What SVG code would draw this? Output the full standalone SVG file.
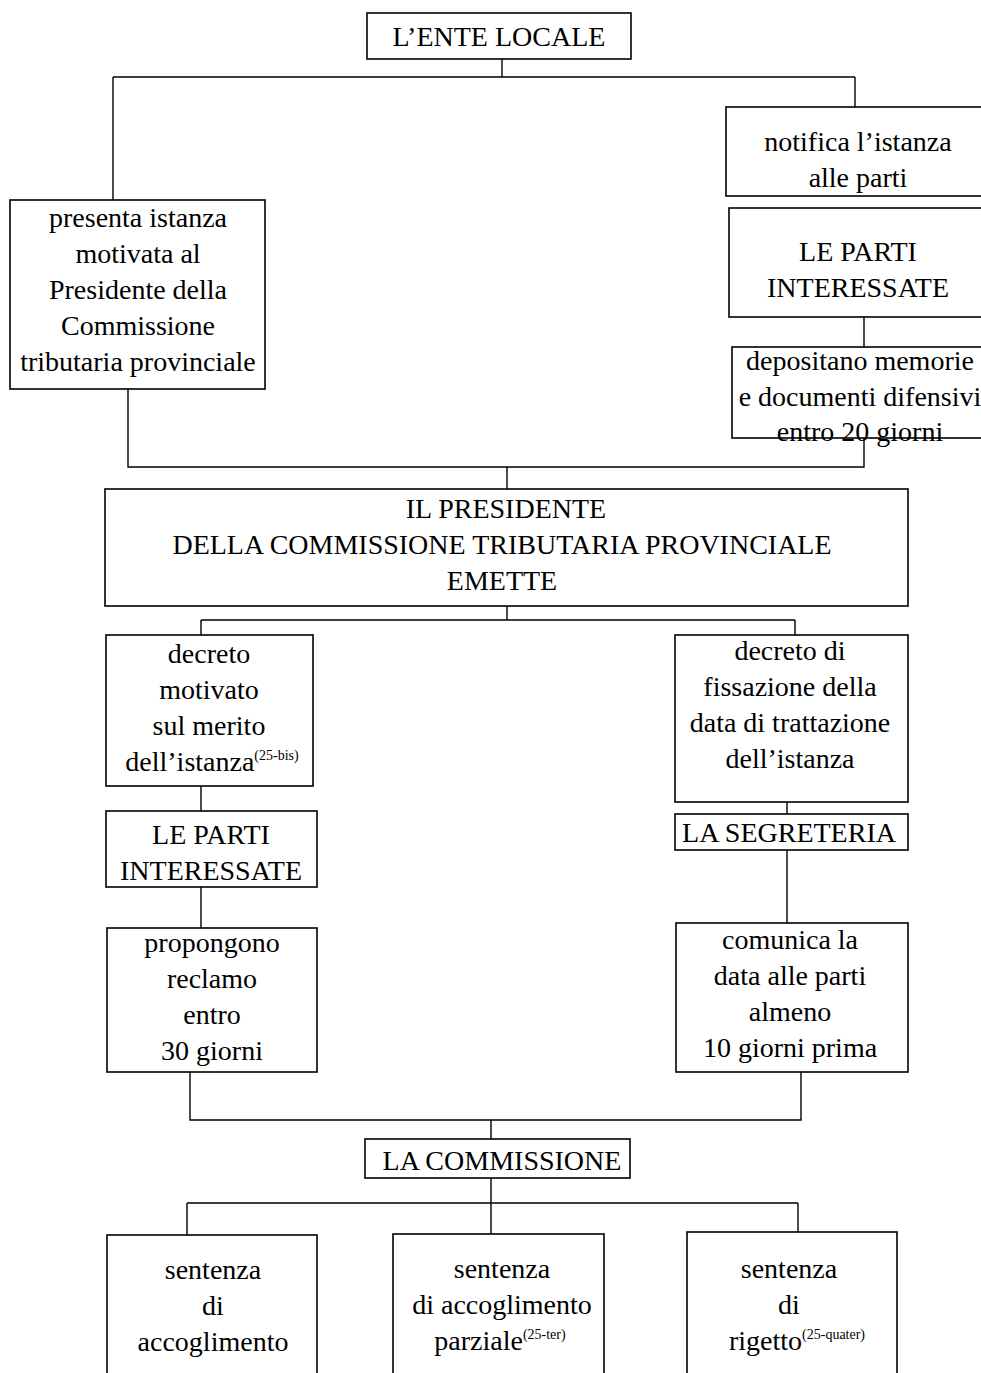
<svg xmlns="http://www.w3.org/2000/svg" width="981" height="1373" viewBox="0 0 981 1373">
<style>
.box{fill:#fff;stroke:#000;stroke-width:1.6}
.ln{fill:none;stroke:#000;stroke-width:1.4}
text{font-family:"Liberation Serif","Times New Roman",serif;font-size:28px;fill:#000;text-anchor:middle}
.sup{font-size:14px}
</style>
<rect width="981" height="1373" fill="#fff"/>
<g id="connectors">
<path class="ln" d="M502,59V77M113,77H855M113,77V200M855,77V107"/>
<path class="ln" d="M864,317V347"/>
<path class="ln" d="M128,389V467H864V438"/>
<path class="ln" d="M507,467V489"/>
<path class="ln" d="M507,606V620M201,620H795M201,620V635M795,620V635"/>
<path class="ln" d="M201,786V811M201,887V928"/>
<path class="ln" d="M787,802V814M787,850V923"/>
<path class="ln" d="M190,1072V1120H801V1072M491,1120V1139"/>
<path class="ln" d="M491,1178V1234M187,1203H798M187,1203V1235M798,1203V1232"/>
</g>
<g id="ente">
<rect class="box" x="367" y="13" width="264" height="46"/>
<text x="499" y="46">L’ENTE LOCALE</text>
</g>
<g id="presenta">
<rect class="box" x="10" y="200" width="255" height="189"/>
<text x="138" y="227">presenta istanza</text>
<text x="138" y="263">motivata al</text>
<text x="138" y="299">Presidente della</text>
<text x="138" y="335">Commissione</text>
<text x="138" y="371">tributaria provinciale</text>
</g>
<g id="notifica">
<rect class="box" x="726" y="107" width="270" height="89"/>
<text x="858" y="151">notifica l’istanza</text>
<text x="858" y="187">alle parti</text>
</g>
<g id="parti1">
<rect class="box" x="729" y="208" width="270" height="109"/>
<text x="858" y="261">LE PARTI</text>
<text x="858" y="297">INTERESSATE</text>
</g>
<g id="depositano">
<rect class="box" x="732" y="347" width="265" height="91"/>
<text x="860" y="370">depositano memorie</text>
<text x="860" y="406">e documenti difensivi</text>
<text x="860" y="441">entro 20 giorni</text>
</g>
<g id="presidente">
<rect class="box" x="105" y="489" width="803" height="117"/>
<text x="506" y="518">IL PRESIDENTE</text>
<text x="502" y="554">DELLA COMMISSIONE TRIBUTARIA PROVINCIALE</text>
<text x="502" y="590">EMETTE</text>
</g>
<g id="decreto-motivato">
<rect class="box" x="106" y="635" width="207" height="151"/>
<text x="209" y="663">decreto</text>
<text x="209" y="699">motivato</text>
<text x="209" y="735">sul merito</text>
<text x="212" y="771">dell’istanza<tspan class="sup" dy="-11">(25-bis)</tspan></text>
</g>
<g id="decreto-fissazione">
<rect class="box" x="675" y="635" width="233" height="167"/>
<text x="790" y="660">decreto di</text>
<text x="790" y="696">fissazione della</text>
<text x="790" y="732">data di trattazione</text>
<text x="790" y="768">dell’istanza</text>
</g>
<g id="parti2">
<rect class="box" x="106" y="811" width="211" height="76"/>
<text x="211" y="844">LE PARTI</text>
<text x="211" y="880">INTERESSATE</text>
</g>
<g id="segreteria">
<rect class="box" x="675" y="814" width="233" height="36"/>
<text x="789" y="842">LA SEGRETERIA</text>
</g>
<g id="propongono">
<rect class="box" x="107" y="928" width="210" height="144"/>
<text x="212" y="952">propongono</text>
<text x="212" y="988">reclamo</text>
<text x="212" y="1024">entro</text>
<text x="212" y="1060">30 giorni</text>
</g>
<g id="comunica">
<rect class="box" x="676" y="923" width="232" height="149"/>
<text x="790" y="949">comunica la</text>
<text x="790" y="985">data alle parti</text>
<text x="790" y="1021">almeno</text>
<text x="790" y="1057">10 giorni prima</text>
</g>
<g id="commissione">
<rect class="box" x="365" y="1139" width="265" height="39"/>
<text x="502" y="1170">LA COMMISSIONE</text>
</g>
<g id="accoglimento">
<rect class="box" x="107" y="1235" width="210" height="160"/>
<text x="213" y="1279">sentenza</text>
<text x="213" y="1315">di</text>
<text x="213" y="1351">accoglimento</text>
</g>
<g id="parziale">
<rect class="box" x="393" y="1234" width="211" height="160"/>
<text x="502" y="1278">sentenza</text>
<text x="502" y="1314">di accoglimento</text>
<text x="500" y="1350">parziale<tspan class="sup" dy="-11">(25-ter)</tspan></text>
</g>
<g id="rigetto">
<rect class="box" x="687" y="1232" width="210" height="160"/>
<text x="789" y="1278">sentenza</text>
<text x="789" y="1314">di</text>
<text x="797" y="1350">rigetto<tspan class="sup" dy="-11">(25-quater)</tspan></text>
</g>
</svg>
